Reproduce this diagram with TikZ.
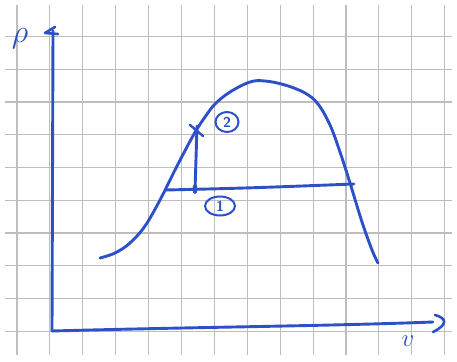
\documentclass[tikz,border=0pt]{standalone}
\usetikzlibrary{shapes.geometric}
\definecolor{pen}{RGB}{45,80,200}
\definecolor{gridc}{RGB}{190,190,190}
\tikzset{
  ink/.style={draw=pen, line width=2.9pt, line cap=round, line join=round},
  gridline/.style={draw=gridc, line width=1.1pt},
  circled/.style={ellipse, draw=pen, line width=2pt, text=pen, inner sep=0pt, font=\sffamily\bfseries\Large},
  axlabel/.style={text=pen, inner sep=0pt}
}
\begin{document}
\begin{tikzpicture}[x=1pt,y=-1pt]
\useasboundingbox (0,0) rectangle (457,361);
\fill[white] (0,0) rectangle (457,361);
% grid paper
\foreach \k in {0,...,13} \draw[gridline] ({17+32.9*\k},5) -- ({17+32.9*\k},355);
\foreach \k in {0,...,9} \draw[gridline] (5,{36.5+32.75*\k}) -- (452,{36.5+32.75*\k});
% axes
\coordinate (O) at (52,331);
\coordinate (ytop) at (53,31);
\coordinate (xend) at (433,322);
\draw[ink] (O) -- (ytop);
\draw[ink] (O) .. controls (200,327) and (330,326) .. (xend);
\draw[ink, line width=2.6pt] (55,27) -- (45,33) -- (58,34);
\draw[ink, line width=2.6pt] (435,315) .. controls (446,318) and (449,324) .. (433,332);
% labels
\node[axlabel, font=\Huge, scale=1.3] (rho) at (20,39) {$\rho$};
\node[axlabel, font=\Huge] (vlab) at (408,341) {$v$};
% curve
\draw[ink] plot[smooth, tension=0.6] coordinates {(100,258) (115,253) (130,243) (145,226) (160,200) (175,170) (188,145) (197,129) (205,117) (215,104) (230,92) (250,82) (265,81) (285,85) (305,93) (318,104) (330,125) (340,152) (350,183) (362,222) (372,250) (378,263)};
% horizontal line and vertical step
\coordinate (hl) at (166,190);
\coordinate (hr) at (354,184);
\draw[ink] (hl) .. controls (250,188) .. (hr);
\coordinate (p1) at (195,191);
\coordinate (p2) at (197,126);
\draw[ink] (p1) -- (p2);
\fill[pen] (195,189) ellipse (2.6pt and 5pt);
\draw[ink, line width=2.4pt] (190,125) -- (203,136);
% circled numbers
\node[circled, minimum width=23pt, minimum height=20pt] (n2) at (227,122) {2};
\node[circled, minimum width=30pt, minimum height=19pt] (n1) at (220,206) {1};
\end{tikzpicture}
\end{document}
